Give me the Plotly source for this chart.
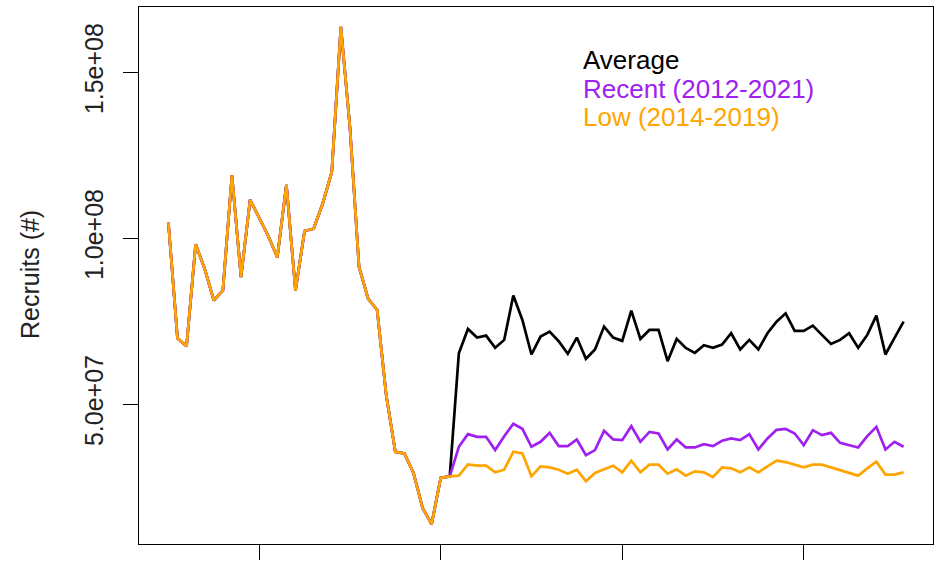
import plotly.graph_objects as go

years = list(range(1990, 2072))

# Historical recruits (1990-2021), millions, common to all scenarios
hist = [104.7, 69.9, 67.5, 98.2, 90.8, 81.3, 84.3, 119.0, 88.3, 111.6,
        106.2, 100.7, 94.3, 116.1, 84.3, 102.2, 102.9, 110.5, 120.0, 163.7,
        133.4, 91.4, 81.8, 78.4, 52.7, 35.7, 35.2, 29.3, 18.8, 13.9,
        27.8, 28.3]

# Projections (2022-2071), millions
avg_proj = [65.4, 72.7, 70.1, 70.7, 67.0, 69.4, 82.8, 75.4, 65.0, 70.4,
            71.9, 69.0, 65.2, 70.1, 63.7, 66.5, 73.4, 70.1, 69.1, 78.2,
            69.7, 72.4, 72.4, 63.0, 69.7, 67.0, 65.5, 67.8, 67.0, 68.0,
            71.4, 66.5, 69.4, 66.5, 71.4, 74.9, 77.4, 72.1, 72.1, 73.7,
            70.9, 68.2, 69.4, 71.4, 67.0, 70.9, 76.7, 65.0, 70.0, 74.9]
recent_proj = [37.2, 41.0, 40.2, 40.2, 36.2, 40.4, 44.1, 42.6, 37.2, 38.7,
               41.4, 37.4, 37.4, 39.4, 34.7, 36.2, 42.0, 39.4, 39.2, 43.4,
               38.7, 41.7, 41.2, 36.4, 39.4, 37.0, 37.0, 38.0, 37.4, 39.0,
               39.7, 39.2, 41.0, 36.4, 39.7, 42.3, 42.6, 41.2, 37.7, 42.2,
               40.7, 41.4, 38.4, 37.7, 37.0, 40.4, 43.2, 36.4, 38.7, 37.2]
low_proj = [28.5, 31.9, 31.5, 31.5, 29.5, 30.3, 35.7, 35.2, 28.3, 31.3,
            31.0, 30.3, 29.1, 30.3, 26.8, 29.3, 30.4, 31.5, 29.5, 33.0,
            29.5, 31.8, 31.8, 29.1, 30.4, 28.5, 29.8, 29.5, 28.1, 31.0,
            30.7, 29.5, 31.0, 29.5, 31.3, 33.0, 32.6, 31.8, 31.0, 31.8,
            31.8, 31.0, 30.1, 29.3, 28.5, 30.7, 32.7, 28.8, 28.8, 29.5]

series_names = ["Average", "Recent (2012-2021)", "Low (2014-2019)"]
series_colors = ["#000000", "#A020F0", "#FFA500"]
y_tickvals = [5e7, 1e8, 1.5e8]
y_ticktext = ["5.0e+07", "1.0e+08", "1.5e+08"]
x_tickvals = [2000, 2020, 2040, 2060]

series = [[v * 1e6 for v in hist + p] for p in (avg_proj, recent_proj, low_proj)]

FONT = "Liberation Sans, Arial, sans-serif"
fig = go.Figure()
for name, col, vals in zip(series_names, series_colors, series):
    fig.add_trace(go.Scatter(x=years, y=vals, mode="lines", name=name,
                             line=dict(color=col, width=2.7), showlegend=False))

allv = [v for s in series for v in s]
lo, hi = min(allv), max(allv)
pad = 0.04 * (hi - lo)
xpad = 0.04 * (years[-1] - years[0])

W, H = 942, 565
L, R, T, B = 139, 9, 6, 16
pw, ph = W - L - R, H - T - B

fig.update_layout(
    width=W, height=H,
    margin=dict(l=L, r=R, t=T, b=B),
    paper_bgcolor="white", plot_bgcolor="white",
    font=dict(family=FONT, size=25, color="black"),
)
fig.update_xaxes(range=[years[0] - xpad, years[-1] + xpad],
                 tickvals=x_tickvals, showticklabels=False,
                 ticks="outside", ticklen=15, tickwidth=1.3, tickcolor="black",
                 showline=True, linecolor="black", linewidth=1.3, mirror=True,
                 showgrid=False, zeroline=False)
fig.update_yaxes(range=[lo - pad, hi + pad],
                 tickvals=y_tickvals, ticktext=y_ticktext, tickangle=-90,
                 ticks="outside", ticklen=15, tickwidth=1.3, tickcolor="black",
                 tickfont=dict(size=25, color="#222222"), ticklabelstandoff=10,
                 showline=True, linecolor="black", linewidth=1.3, mirror=True,
                 showgrid=False, zeroline=False)

# Y-axis title
fig.add_annotation(text="Recruits (#)", xref="paper", yref="paper",
                   x=(30 - L) / pw, y=1 - (277 - T) / ph,
                   xanchor="center", yanchor="middle", textangle=-90,
                   showarrow=False, font=dict(size=25, color="#222222"))

# Text legend
for i, (name, col) in enumerate(zip(series_names, series_colors)):
    yc = 60 + i * 28.5
    fig.add_annotation(text=name, xref="paper", yref="paper",
                       x=(581 - L) / pw, y=1 - (yc - T) / ph,
                       xanchor="left", yanchor="middle", showarrow=False,
                       font=dict(size=26, color=col))

fig.write_html("out.html")
